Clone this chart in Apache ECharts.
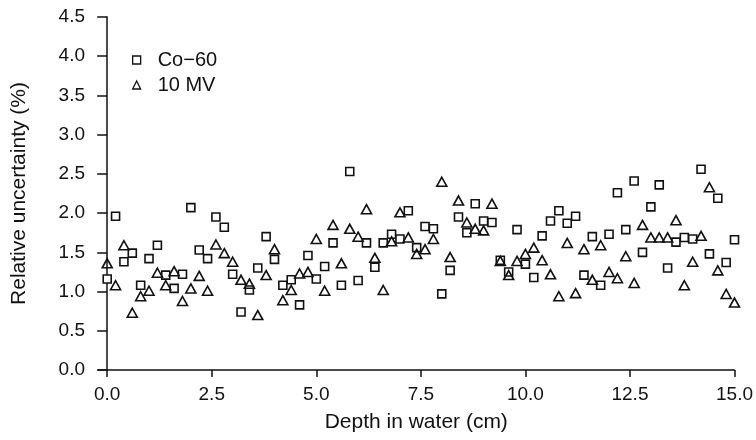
<!DOCTYPE html>
<html>
<head>
<meta charset="utf-8">
<script src="https://cdn.jsdelivr.net/npm/echarts@6/dist/echarts.min.js"></script>
<style>
html,body{margin:0;padding:0;background:#fff;}
#chart{width:756px;height:440px;}
</style>
</head>
<body>
<div id="chart"></div>
<script>
var depth = [0.0,0.2,0.4,0.6,0.8,1.0,1.2,1.4,1.6,1.8,2.0,2.2,2.4,2.6,2.8,3.0,3.2,3.4,3.6,3.8,
  4.0,4.2,4.4,4.6,4.8,5.0,5.2,5.4,5.6,5.8,6.0,6.2,6.4,6.6,6.8,7.0,7.2,7.4,7.6,7.8,
  8.0,8.2,8.4,8.6,8.8,9.0,9.2,9.4,9.6,9.8,10.0,10.2,10.4,10.6,10.8,11.0,11.2,11.4,11.6,11.8,
  12.0,12.2,12.4,12.6,12.8,13.0,13.2,13.4,13.6,13.8,14.0,14.2,14.4,14.6,14.8,15.0];

var co60 = [1.16,1.96,1.38,1.49,1.08,1.42,1.59,1.21,1.04,1.22,2.07,1.53,1.42,1.95,1.82,1.22,0.74,1.02,1.30,1.70,
  1.41,1.08,1.15,0.83,1.46,1.16,1.32,1.62,1.08,2.53,1.14,1.62,1.31,1.62,1.73,1.67,2.03,1.56,1.83,1.80,
  0.97,1.27,1.95,1.75,2.12,1.90,1.88,1.40,1.25,1.79,1.35,1.18,1.71,1.90,2.03,1.87,1.96,1.21,1.70,1.08,
  1.73,2.26,1.79,2.41,1.50,2.08,2.36,1.30,1.63,1.69,1.67,2.56,1.48,2.19,1.37,1.66];

var mv10 = [1.36,1.08,1.59,0.73,0.94,1.01,1.24,1.08,1.26,0.88,1.04,1.20,1.01,1.60,1.49,1.38,1.15,1.10,0.70,1.21,
  1.54,0.89,1.02,1.23,1.25,1.67,1.01,1.85,1.36,1.80,1.70,2.05,1.43,1.02,1.64,2.01,1.69,1.48,1.54,1.67,
  2.40,1.44,2.16,1.88,1.80,1.78,2.12,1.39,1.21,1.39,1.48,1.56,1.40,1.22,0.94,1.62,0.98,1.54,1.15,1.59,
  1.25,1.17,1.45,1.11,1.85,1.69,1.69,1.69,1.91,1.08,1.38,1.71,2.33,1.27,0.97,0.86];

var xTicks = [0, 2.5, 5, 7.5, 10, 12.5, 15];
var seriesNames = ['Co\u221260', '10 MV'];

function pairs(xs, ys){ return xs.map(function(x,i){ return [x, ys[i]]; }); }

var font = 'Liberation Sans, Arial, Helvetica, sans-serif';
var chart = echarts.init(document.getElementById('chart'), null, {renderer:'canvas'});
chart.setOption({
  animation:false,
  backgroundColor:'#fff',
  grid:{left:98, right:21, top:17, bottom:70, containLabel:false},
  legend:{
    orient:'vertical', left:127, top:45, itemWidth:8, itemHeight:8, itemGap:5,
    textStyle:{fontFamily:font, fontSize:20, color:'#111', padding:[0,0,0,12]},
    data:[{name:seriesNames[0], icon:'rect', itemStyle:{color:'#fff', borderColor:'#111', borderWidth:1.3}},
          {name:seriesNames[1], icon:'triangle', itemStyle:{color:'#fff', borderColor:'#111', borderWidth:1.3}}]
  },
  xAxis:{
    type:'value', min:-0.22, max:15,
    name:'Depth in water (cm)', nameLocation:'middle', nameGap:42,
    nameTextStyle:{fontFamily:font, fontSize:21, color:'#111'},
    axisLine:{show:true, onZero:false, lineStyle:{color:'#111', width:1.5}},
    axisTick:{show:true, length:7, lineStyle:{color:'#111', width:1.5}, customValues:xTicks},
    axisLabel:{fontFamily:font, fontSize:19, color:'#111', margin:15, customValues:xTicks,
      formatter:function(v){ return v.toFixed(1); }},
    splitLine:{show:false}
  },
  yAxis:{
    type:'value', min:0, max:4.5, interval:0.5,
    name:'Relative uncertainty (%)', nameLocation:'middle', nameGap:68, nameRotate:90,
    nameTextStyle:{fontFamily:font, fontSize:21, color:'#111'},
    axisLine:{show:true, lineStyle:{color:'#111', width:1.5}},
    axisTick:{show:true, length:10, lineStyle:{color:'#111', width:1.5}},
    axisLabel:{fontFamily:font, fontSize:19, color:'#111', margin:13,
      formatter:function(v){ return v.toFixed(1); }},
    splitLine:{show:false}
  },
  series:[
    {name:seriesNames[0], type:'scatter', symbol:'rect', symbolSize:8,
     itemStyle:{color:'#fff', borderColor:'#111', borderWidth:1.6, opacity:1},
     data:pairs(depth, co60)},
    {name:seriesNames[1], type:'scatter', symbol:'triangle', symbolSize:[10,9],
     itemStyle:{color:'rgba(255,255,255,0)', borderColor:'#111', borderWidth:1.6, opacity:1},
     data:pairs(depth, mv10)}
  ]
});
</script>
</body>
</html>
